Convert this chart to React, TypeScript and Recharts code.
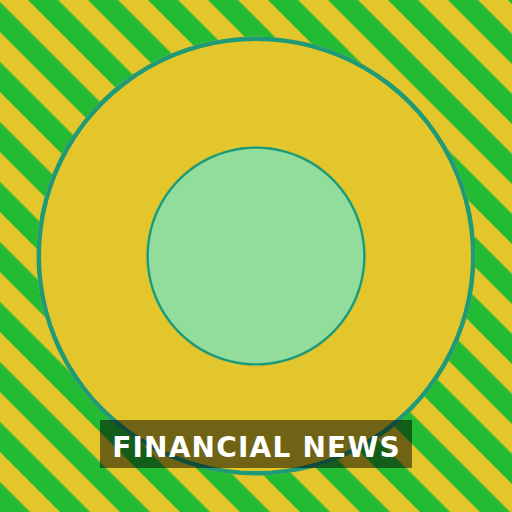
import { PieChart, Pie } from 'recharts'

// One-share "pie" drawn as a badge: yellow disc, teal rims, pale green core.
const categories = ['Financial news']
const shares = [100]
const title = 'FINANCIAL NEWS'

const data = categories.map((name, i) => ({ name, value: shares[i] }))

const YELLOW = '#e2c62b'
const GREEN = '#22bb33'
const TEAL = '#1f9a76'
const CORE = '#92dd9c'

export default function App() {
  return (
    <div style={{ position: 'absolute', top: 0, left: 0, width: 512, height: 512 }}>
      <PieChart width={512} height={512} margin={{ top: 0, right: 0, bottom: 0, left: 0 }}>
        <defs>
          <pattern id="stripes" patternUnits="userSpaceOnUse" width={42.426} height={100} patternTransform="rotate(-45)">
            <rect x={0} y={0} width={42.426} height={100} fill={YELLOW} />
            <rect x={19.8} y={0} width={21.213} height={100} fill={GREEN} />
          </pattern>
        </defs>
        <rect x={0} y={0} width={512} height={512} fill="url(#stripes)" />
        {/* yellow body */}
        <Pie data={data} dataKey="value" cx={256} cy={256} innerRadius={0} outerRadius={219.5}
          startAngle={90} endAngle={-270} fill={YELLOW} stroke="none" isAnimationActive={false} />
        {/* outer rim */}
        <Pie data={data} dataKey="value" cx={256} cy={256} innerRadius={215} outerRadius={219.5}
          startAngle={90} endAngle={-270} fill={TEAL} stroke="none" isAnimationActive={false} />
        {/* core */}
        <Pie data={data} dataKey="value" cx={256} cy={256} innerRadius={0} outerRadius={109.5}
          startAngle={90} endAngle={-270} fill={CORE} stroke="none" isAnimationActive={false} />
        {/* core rim */}
        <Pie data={data} dataKey="value" cx={256} cy={256} innerRadius={107.2} outerRadius={109.6}
          startAngle={90} endAngle={-270} fill={TEAL} stroke="none" isAnimationActive={false} />
      </PieChart>
      {/* title plate sits above the pie layers */}
      <svg width={512} height={512} style={{ position: 'absolute', top: 0, left: 0, pointerEvents: 'none' }}>
        <rect x={100} y={420} width={312} height={48} fill="rgba(0,0,0,0.5)" />
        <text x={256.5} y={457} textAnchor="middle" fill="#ffffff"
          style={{ fontFamily: '"DejaVu Sans", sans-serif', fontWeight: 700, fontSize: 28, letterSpacing: 1.2 }}>
          {title}
        </text>
      </svg>
    </div>
  )
}
